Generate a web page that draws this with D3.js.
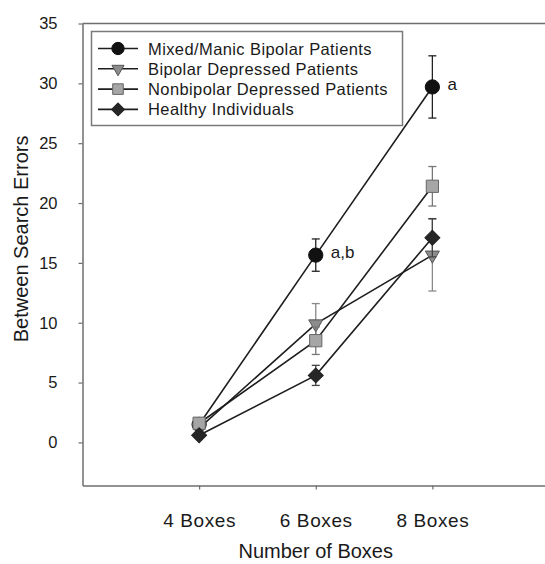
<!DOCTYPE html>
<html>
<head>
<meta charset="utf-8">
<script src="https://cdn.jsdelivr.net/npm/d3@7"></script>
<style>
  body { margin: 0; background: #fff; }
  text { font-family: "Liberation Sans", Arial, sans-serif; fill: #1a1a1a; }
</style>
</head>
<body>
<svg id="chart" width="545" height="564"></svg>
<script>
// Number of boxes in the search task
const categories = ["4 Boxes", "6 Boxes", "8 Boxes"];
const seriesNames = [
  "Mixed/Manic Bipolar Patients",
  "Bipolar Depressed Patients",
  "Nonbipolar Depressed Patients",
  "Healthy Individuals"
];
// Mean between-search errors per group, with standard errors
const mixedManic      = [1.5, 15.65, 29.7];
const mixedManicErr   = [0.3, 1.35, 2.6];
const bipolarDep      = [1.2, 9.9, 15.65];
const bipolarDepErr   = [0.3, 1.7, 3.0];
const nonbipolarDep   = [1.6, 8.5, 21.4];
const nonbipolarDepErr= [0.3, 1.15, 1.65];
const healthy         = [0.6, 5.6, 17.1];
const healthyErr      = [0.2, 0.84, 1.6];
const yTicks = [0, 5, 10, 15, 20, 25, 30, 35];
// Significance annotations: [series index, category index, label]
const annotations = [[0, 1, "a,b"], [0, 2, "a"]];

const values = [mixedManic, bipolarDep, nonbipolarDep, healthy];
const errors = [mixedManicErr, bipolarDepErr, nonbipolarDepErr, healthyErr];

const styles = [
  { shape: d3.symbolCircle,   size: 160, fill: "#111",    stroke: "#111", err: "#222" },
  { shape: d3.symbolTriangle, size: 85,  fill: "#8c8c8c", stroke: "#555", err: "#888", rotate: 180 },
  { shape: d3.symbolSquare,   size: 150, fill: "#a6a6a6", stroke: "#666", err: "#777" },
  { shape: d3.symbolSquare,   size: 112, fill: "#262626", stroke: "#222", err: "#444", rotate: 45 }
];

const svg = d3.select("#chart");
const plotLeft = 82.5, plotRight = 549, plotTop = 23.5, plotBottom = 485.5;

const x = d3.scalePoint().domain(categories).range([plotLeft, plotRight]).padding(1);
const y = d3.scaleLinear().domain([-3.6, 35]).range([plotBottom, plotTop]);

const axisColor = "#6e6e6e";

// frame: top edge
svg.append("line")
  .attr("x1", plotLeft).attr("x2", plotRight).attr("y1", plotTop).attr("y2", plotTop)
  .attr("stroke", axisColor).attr("stroke-width", 1.5);

const yAxis = svg.append("g")
  .attr("transform", `translate(${plotLeft},0)`)
  .call(d3.axisLeft(y).tickValues(yTicks).tickSize(4).tickSizeOuter(0).tickPadding(21));
const xAxis = svg.append("g")
  .attr("transform", `translate(0,${plotBottom})`)
  .call(d3.axisBottom(x).tickSize(4).tickSizeOuter(0).tickPadding(24));

[yAxis, xAxis].forEach(g => {
  g.select(".domain").attr("stroke", axisColor).attr("stroke-width", 1.5);
  g.selectAll(".tick line").attr("stroke", axisColor).attr("stroke-width", 1.2);
  g.selectAll(".tick text").attr("fill", "#1a1a1a")
    .style("font-family", "'Liberation Sans', Arial, sans-serif");
});
yAxis.selectAll(".tick text").style("font-size", "16.5px");
xAxis.selectAll(".tick text").style("font-size", "19px").style("letter-spacing", "0.6px");

// axis titles
svg.append("text")
  .attr("x", x(categories[1])).attr("y", 558)
  .attr("text-anchor", "middle")
  .style("font-size", "20px")
  .text("Number of Boxes");
svg.append("text")
  .attr("transform", `translate(28,${y(17.5) + 6}) rotate(-90)`)
  .attr("text-anchor", "middle")
  .style("font-size", "20px")
  .text("Between Search Errors");

// series
values.forEach((vals, si) => {
  const st = styles[si];
  const g = svg.append("g");
  const line = d3.line().x((d, i) => x(categories[i])).y(d => y(d));
  g.append("path").datum(vals)
    .attr("d", line).attr("fill", "none")
    .attr("stroke", "#1e1e1e").attr("stroke-width", 1.6);
  // error bars
  vals.forEach((v, i) => {
    const e = errors[si][i];
    const cx = x(categories[i]);
    g.append("line").attr("x1", cx).attr("x2", cx)
      .attr("y1", y(v - e)).attr("y2", y(v + e))
      .attr("stroke", st.err).attr("stroke-width", 1.3);
    [v - e, v + e].forEach(t => {
      g.append("line").attr("x1", cx - 4).attr("x2", cx + 4)
        .attr("y1", y(t)).attr("y2", y(t))
        .attr("stroke", st.err).attr("stroke-width", 1.3);
    });
  });
  // markers
  g.selectAll("path.marker").data(vals).join("path")
    .attr("class", "marker")
    .attr("d", d3.symbol().type(st.shape).size(st.size)())
    .attr("transform", (d, i) => `translate(${x(categories[i])},${y(d)})${st.rotate ? ` rotate(${st.rotate})` : ""}`)
    .attr("fill", st.fill).attr("stroke", st.stroke).attr("stroke-width", 1);
});

// significance letters
annotations.forEach(([si, ci, label]) => {
  svg.append("text")
    .attr("x", x(categories[ci]) + 15)
    .attr("y", y(values[si][ci]) + 3)
    .style("font-size", "17px")
    .text(label);
});

// legend
const legend = svg.append("g");
legend.append("rect")
  .attr("x", 91.5).attr("y", 31.5).attr("width", 311).attr("height", 94)
  .attr("fill", "#fff").attr("stroke", "#7a7a7a").attr("stroke-width", 1.5);
seriesNames.forEach((name, si) => {
  const st = styles[si];
  const ly = 48.5 + si * 20.3;
  legend.append("line").attr("x1", 98).attr("x2", 138).attr("y1", ly).attr("y2", ly)
    .attr("stroke", "#1e1e1e").attr("stroke-width", 1.6);
  legend.append("path")
    .attr("d", d3.symbol().type(st.shape).size(st.size * 0.75)())
    .attr("transform", `translate(118,${ly})${st.rotate ? ` rotate(${st.rotate})` : ""}`)
    .attr("fill", st.fill).attr("stroke", st.stroke).attr("stroke-width", 1);
  legend.append("text")
    .attr("x", 148).attr("y", ly + 6)
    .style("font-size", "16.5px").style("letter-spacing", "0.4px")
    .text(name);
});
</script>
</body>
</html>
